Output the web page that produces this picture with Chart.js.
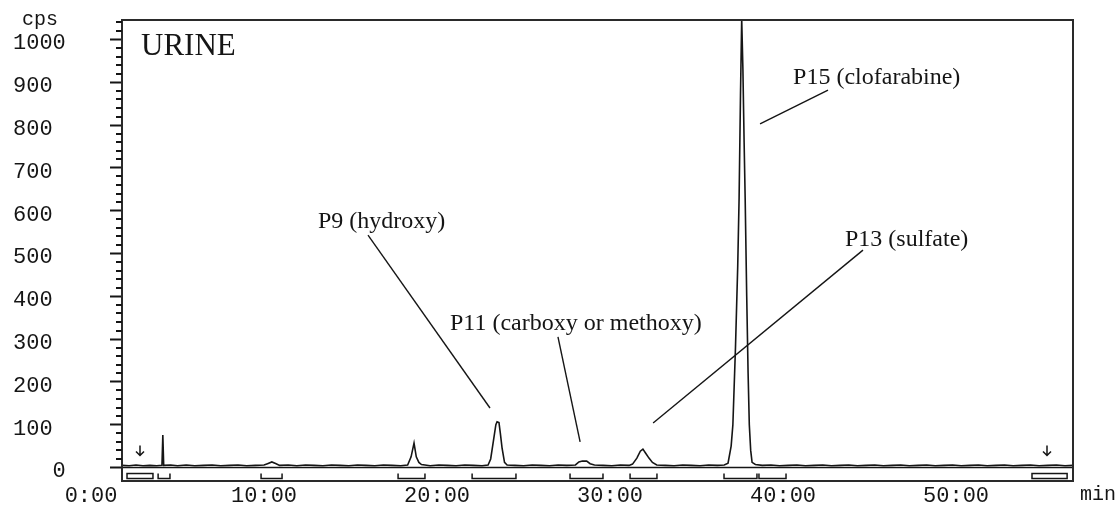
<!DOCTYPE html>
<html>
<head>
<meta charset="utf-8">
<script src="https://cdn.jsdelivr.net/npm/chart.js@4.4.1/dist/chart.umd.min.js"></script>
<style>
  html, body { margin: 0; padding: 0; background: #fff; }
  #wrap { width: 1119px; height: 506px; }
</style>
</head>
<body>
<div id="wrap"><canvas id="chart"></canvas></div>
<script>
// Retention time (min) and detector response (cps)
const retentionTimes = [
  1.8, 2.2, 2.6, 3.0, 3.4, 3.8, 4.1, 4.15, 4.2, 4.6, 5.0, 5.5, 6.0, 6.5, 7.0, 7.5, 8.0, 8.5, 9.0, 9.5,
  10.0, 10.2, 10.45, 10.7, 10.9, 11.4, 11.9, 12.4, 12.9, 13.4, 13.9, 14.4, 14.9, 15.4, 15.9, 16.4, 16.9, 17.4, 17.9,
  18.3, 18.5, 18.67, 18.8, 18.95, 19.1, 19.6, 20.1, 20.6, 21.1, 21.6, 22.1, 22.6,
  22.95, 23.1, 23.25, 23.4, 23.47, 23.58, 23.66, 23.76, 23.9, 24.05, 24.5, 25.0, 25.5, 26.0, 26.5, 27.0, 27.5,
  28.0, 28.2, 28.4, 28.65, 28.85, 29.1, 29.6, 30.1, 30.6, 31.1,
  31.3, 31.55, 31.75, 31.9, 32.05, 32.25, 32.45, 32.7, 33.2, 33.7, 34.2, 34.7, 35.2, 35.7, 36.2,
  36.6, 36.82, 37.0, 37.1, 37.25, 37.38, 37.46, 37.54, 37.61, 37.68, 37.75, 37.81, 37.9, 37.98, 38.05, 38.13, 38.21, 38.4,
  38.8, 39.3, 39.8, 40.3, 40.8, 41.3, 41.8, 42.3, 42.8, 43.3, 43.8, 44.3, 44.8, 45.3, 45.8, 46.3, 46.8, 47.3, 47.8,
  48.3, 48.8, 49.3, 49.8, 50.3, 50.8, 51.3, 51.8, 52.3, 52.8, 53.3, 53.8, 54.3, 54.8, 55.3, 55.8, 56.3, 56.76
]
const counts = [
  5, 4, 6, 4, 5, 4, 5, 76, 5, 6, 4, 6, 4, 5, 6, 4, 5, 6, 4, 5,
  6, 9, 13, 9, 5, 6, 4, 6, 5, 4, 6, 5, 4, 6, 5, 4, 6, 5, 4,
  6, 25, 57, 25, 12, 7, 4, 6, 5, 4, 6, 5, 4,
  6, 20, 60, 100, 107, 105, 80, 45, 12, 6, 5, 4, 6, 5, 4, 6, 5,
  6, 13, 15, 15, 9, 6, 5, 4, 6, 5,
  8, 22, 38, 43, 34, 22, 12, 6, 5, 4, 6, 5, 4, 6, 5,
  6, 10, 50, 100, 280, 470, 630, 870, 1048, 930, 760, 630, 400, 220, 100, 40, 12, 7,
  5, 6, 4, 5, 6, 4, 5, 6, 4, 5, 6, 4, 5, 6, 4, 5, 6, 4, 5,
  6, 4, 5, 6, 4, 5, 6, 4, 5, 6, 4, 5, 6, 4, 5, 6, 4, 5
]

const xTickValues = [0, 10, 20, 30, 40, 50]
const xTickLabels = ["0:00", "10:00", "20:00", "30:00", "40:00", "50:00"]

// integration windows drawn under the baseline
const windowStarts = [3.82, 9.77, 17.69, 21.97, 27.63, 31.1, 36.53, 38.55]
const windowEnds = [4.62, 11.1, 19.36, 24.62, 29.65, 32.77, 38.55, 40.23]
const boxStarts = [2.08, 54.39]
const boxEnds = [3.58, 56.42]
const arrowTimes = [2.83, 55.26]

// peak callouts (min, cps)
const peakLabels = ["P9 (hydroxy)", "P11 (carboxy or methoxy)", "P13 (sulfate)", "P15 (clofarabine)"]
const labelAt = [[13.12, 560], [20.75, 322], [43.58, 518], [40.58, 896]]
const leaderFrom = [[16.01, 543], [26.99, 305], [44.62, 508], [42.6, 882]]
const leaderTo = [[23.06, 139], [28.27, 60], [32.49, 104], [38.67, 803]]

const sampleName = "URINE"
const sampleAt = [2.89, 964]

const INK = "#151515"
const MONO = "'Liberation Mono', 'DejaVu Sans Mono', monospace"
const SERIF = "'Liberation Serif', 'DejaVu Serif', serif"

const decor = {
  id: "decor",
  beforeDatasetsDraw(chart) {
    const { ctx, chartArea: a, scales: { y } } = chart
    const y0 = y.getPixelForValue(0)
    ctx.save()
    ctx.strokeStyle = INK
    ctx.lineWidth = 1.5
    ctx.beginPath()
    ctx.moveTo(a.left, y0)
    ctx.lineTo(a.right, y0)
    ctx.stroke()
    ctx.restore()
  },
  afterDatasetsDraw(chart) {
    const { ctx, chartArea: a, scales: { x, y } } = chart
    const y0 = y.getPixelForValue(0)
    ctx.save()

    // frame
    ctx.strokeStyle = "#2a2a2a"
    ctx.lineWidth = 2
    ctx.strokeRect(a.left, a.top, a.right - a.left, a.bottom - a.top)

    // minor ticks on the cps axis
    ctx.strokeStyle = INK
    ctx.lineWidth = 2
    for (let v = 20; v <= y.max; v += 20) {
      if (v % 100 === 0) continue
      const py = Math.round(y.getPixelForValue(v))
      ctx.beginPath()
      ctx.moveTo(a.left - 6, py)
      ctx.lineTo(a.left, py)
      ctx.stroke()
    }

    // integration windows
    ctx.lineWidth = 1.5
    const top = y0 + 6, bottom = y0 + 11
    windowStarts.forEach((s, i) => {
      const x1 = x.getPixelForValue(s), x2 = x.getPixelForValue(windowEnds[i])
      ctx.beginPath()
      ctx.moveTo(x1 + 1, top)
      ctx.lineTo(x1 + 1, bottom)
      ctx.lineTo(x2 - 1, bottom)
      ctx.lineTo(x2 - 1, top)
      ctx.stroke()
    })
    boxStarts.forEach((s, i) => {
      const x1 = x.getPixelForValue(s), x2 = x.getPixelForValue(boxEnds[i])
      ctx.strokeRect(x1, top, x2 - x1, bottom - top)
    })

    // injection arrows
    arrowTimes.forEach(t => {
      const px = Math.round(x.getPixelForValue(t))
      const tip = y0 - 12
      ctx.beginPath()
      ctx.moveTo(px, tip - 10)
      ctx.lineTo(px, tip)
      ctx.moveTo(px - 4, tip - 4)
      ctx.lineTo(px, tip)
      ctx.lineTo(px + 4, tip - 4)
      ctx.stroke()
    })

    // peak callouts
    ctx.fillStyle = INK
    ctx.lineWidth = 1.4
    ctx.font = "24px " + SERIF
    ctx.textBaseline = "alphabetic"
    ctx.textAlign = "left"
    peakLabels.forEach((text, i) => {
      ctx.fillText(text, x.getPixelForValue(labelAt[i][0]), y.getPixelForValue(labelAt[i][1]))
      ctx.beginPath()
      ctx.moveTo(x.getPixelForValue(leaderFrom[i][0]), y.getPixelForValue(leaderFrom[i][1]))
      ctx.lineTo(x.getPixelForValue(leaderTo[i][0]), y.getPixelForValue(leaderTo[i][1]))
      ctx.stroke()
    })
    ctx.font = "31px " + SERIF
    ctx.fillText(sampleName, x.getPixelForValue(sampleAt[0]), y.getPixelForValue(sampleAt[1]))

    // time axis labels
    ctx.font = "22px " + MONO
    ctx.textAlign = "center"
    ctx.textBaseline = "middle"
    xTickValues.forEach((v, i) => {
      ctx.fillText(xTickLabels[i], x.getPixelForValue(v), a.bottom + 15)
    })
    ctx.font = "20px " + MONO
    ctx.textAlign = "left"
    ctx.fillText("min", a.right + 7, a.bottom + 14)
    ctx.fillText("cps", 22, 20)

    ctx.restore()
  }
}

new Chart(document.getElementById("chart"), {
  type: "line",
  data: {
    datasets: [{
      data: retentionTimes.map((t, i) => ({ x: t, y: counts[i] })),
      borderColor: INK,
      borderWidth: 1.6,
      pointRadius: 0,
      tension: 0,
      fill: false
    }]
  },
  options: {
    responsive: true,
    maintainAspectRatio: false,
    animation: false,
    layout: { padding: { top: 20, right: 46, bottom: 25, left: 13 } },
    plugins: { legend: { display: false }, tooltip: { enabled: false } },
    scales: {
      x: { type: "linear", min: 1.79, max: 56.76, display: false },
      y: {
        min: -31.5,
        max: 1045.6,
        afterFit: scale => { scale.width = 109 },
        border: { display: false },
        grid: { drawOnChartArea: false, drawTicks: true, tickLength: 12, tickWidth: 2, tickColor: INK },
        ticks: {
          stepSize: 100,
          includeBounds: false,
          crossAlign: "far",
          labelOffset: 4,
          color: INK,
          font: { family: MONO, size: 22 },
          callback: v => (v === 0 ? "   0" : String(v))
        }
      }
    }
  },
  plugins: [decor]
})
</script>
</body>
</html>
